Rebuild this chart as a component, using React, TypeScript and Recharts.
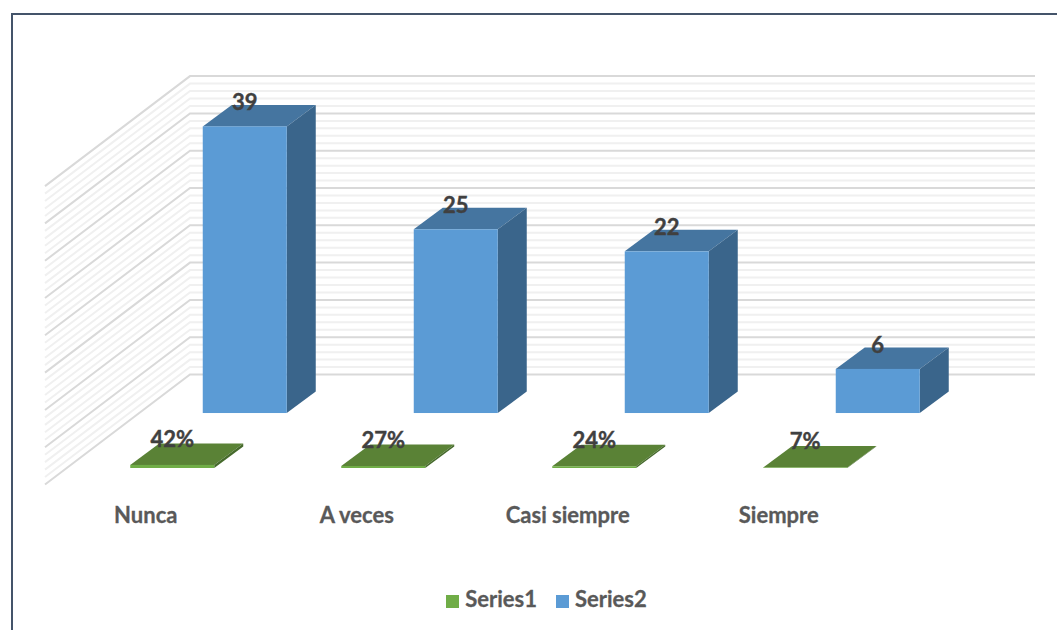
import { Bar, BarChart, CartesianGrid, LabelList, Legend, XAxis, YAxis } from "recharts";

const categories = ["Nunca", "A veces", "Casi siempre", "Siempre"];
const series1 = [0.42, 0.27, 0.24, 0.07];
const series2 = [39, 25, 22, 6];
const majorTicks = [0, 5, 10, 15, 20, 25, 30, 35, 40];
const minorTicks = [
  1, 2, 3, 4, 6, 7, 8, 9, 11, 12, 13, 14, 16, 17, 18, 19, 21, 22, 23, 24, 26, 27, 28, 29, 31, 32, 33, 34, 36, 37, 38, 39,
];

const data = categories.map((name, i) => ({ name, series1: series1[i], series2: series2[i] }));

const FONT = "Lato, sans-serif";
const DEPTH_X = 29;
const DEPTH_Y = 21.5;
const WALL_DOMAIN = [-12.53, 40.15];

// fake 3d box, front face comes from the bar rectangle
function Box3D({ x, y, width, height, fill, topFill, sideFill }: any) {
  const r = x + width;
  const b = y + height;
  return (
    <g>
      <polygon points={`${x},${y} ${x + DEPTH_X},${y - DEPTH_Y} ${r + DEPTH_X},${y - DEPTH_Y} ${r},${y}`} fill={topFill} />
      <polygon points={`${r},${y} ${r + DEPTH_X},${y - DEPTH_Y} ${r + DEPTH_X},${b - DEPTH_Y} ${r},${b}`} fill={sideFill} />
      <rect x={x} y={y} width={width} height={height} fill={fill} />
    </g>
  );
}

// back wall line plus the diagonal on the side wall
const wallLine = (color: string) => (p: any) => (
  <polyline key={p.key ?? p.y1} points={`45,${p.y1 + 110} 190,${p.y1} 1035,${p.y1}`} fill="none" stroke={color} strokeWidth={2} />
);

// the default generator drops ticks that sit close together, so go through the scale directly
const wallCoords = (ticks: number[]) => ({ yAxis, offset }: any) =>
  ticks.map((t) => {
    const s = yAxis?.scale;
    if (typeof s === "function") return s(t);
    if (s && typeof s.map === "function") return s.map(t);
    return offset.top + ((WALL_DOMAIN[1] - t) / (WALL_DOMAIN[1] - WALL_DOMAIN[0])) * offset.height;
  });

const percent = (v: any) => `${Math.round(Number(v) * 100)}%`;
const labelStyle = { fontFamily: FONT, fontSize: 22, fontWeight: 700, fill: "#404040", stroke: "#404040", strokeWidth: 0.4 };

export default function App() {
  return (
    <div style={{ position: "absolute", left: 0, top: 0, width: 1057, height: 630, background: "#fff", overflow: "hidden" }}>
      <div
        style={{
          position: "absolute",
          left: 11,
          top: 13,
          width: 1060,
          height: 640,
          borderLeft: "2px solid #44546a",
          borderTop: "2px solid #44546a",
        }}
      />
      <div style={{ position: "absolute", left: 0, top: 0 }}>
        <BarChart
          width={1057}
          height={630}
          data={data}
          barSize={84}
          barGap={-11.5}
          margin={{ top: 75, right: 109.75, bottom: 105, left: 103.25 }}
        >
          <XAxis
            dataKey="name"
            height={30}
            axisLine={false}
            tickLine={false}
            interval={0}
            tick={{
              dx: -63,
              dy: 31,
              fontFamily: FONT,
              fontSize: 22,
              fontWeight: 700,
              fill: "#595959",
              stroke: "#595959",
              strokeWidth: 0.3,
            }}
          />
          <YAxis yAxisId="front" hide domain={[0, 53.1]} allowDataOverflow />
          <YAxis yAxisId="mid" hide domain={[-7.48, 45.99]} allowDataOverflow />
          <YAxis yAxisId="wall" hide domain={WALL_DOMAIN} allowDataOverflow />
          <CartesianGrid
            yAxisId="wall"
            vertical={false}
            horizontalCoordinatesGenerator={wallCoords(minorTicks)}
            horizontal={wallLine("#f0f0f0")}
          />
          <CartesianGrid
            yAxisId="wall"
            vertical={false}
            horizontalCoordinatesGenerator={wallCoords(majorTicks)}
            horizontal={wallLine("#d9d9d9")}
          />
          <Bar
            dataKey="series1"
            name="Series1"
            yAxisId="front"
            fill="#70ad47"
            isAnimationActive={false}
            shape={(p: any) => <Box3D {...p} topFill="#5a8236" sideFill="#466a2c" />}
          >
            <LabelList dataKey="series1" position="top" offset={18} formatter={percent} style={labelStyle} />
          </Bar>
          <Bar
            dataKey="series2"
            name="Series2"
            yAxisId="mid"
            fill="#5b9bd5"
            isAnimationActive={false}
            shape={(p: any) => <Box3D {...p} topFill="#4575a0" sideFill="#3a658b" />}
          >
            <LabelList dataKey="series2" position="top" offset={16} style={labelStyle} />
          </Bar>
          <Legend
            iconType="square"
            iconSize={13}
            align="center"
            verticalAlign="bottom"
            wrapperStyle={{ left: 134, bottom: 18, fontFamily: FONT, fontSize: 22, fontWeight: 700 }}
            formatter={(value: any) => (
              <span style={{ color: "#595959", marginRight: 9, marginLeft: 2, WebkitTextStroke: "0.3px #595959" }}>{value}</span>
            )}
          />
        </BarChart>
      </div>
    </div>
  );
}
